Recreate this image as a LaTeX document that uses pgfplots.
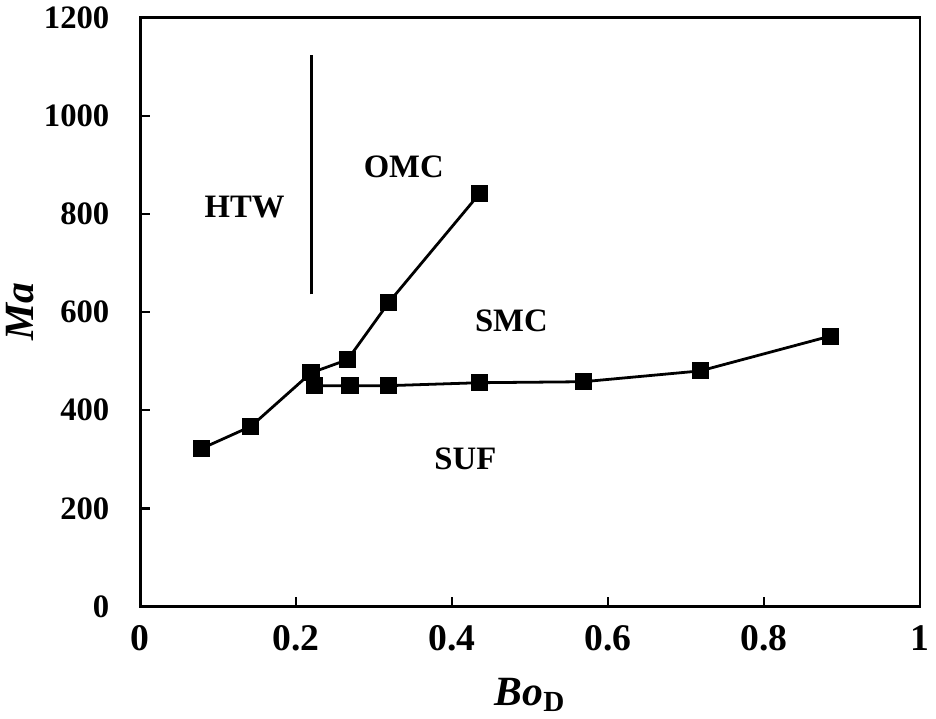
\documentclass[border=0pt]{standalone}
\usepackage{fontspec}
\setmainfont{Liberation Serif}
\usepackage{pgfplots}
\pgfplotsset{compat=1.18}

\begin{document}
\begin{tikzpicture}
\begin{axis}[
  scale only axis,
  width=392bp, height=296bp,
  xmin=0, xmax=1, ymin=0, ymax=1200,
  xtick={0,0.2,...,1}, ytick={0,200,...,1200},
  /pgf/number format/1000 sep={},
  xticklabel style={font=\fontsize{19}{20}\selectfont\bfseries, yshift=-6bp},
  yticklabel style={font=\fontsize{16.5}{18}\selectfont\bfseries, xshift=-12bp},
  /pgf/number format/assume math mode=true,
  tick align=inside,
  major tick length=5bp,
  xtick pos=bottom, ytick pos=left,
  axis line style={line width=1.4bp},
  tick style={line width=1.2bp, black},
  xlabel={\fontsize{21}{22}\selectfont\bfseries\itshape Bo\textsubscript{\upshape D}},
  ylabel={\fontsize{21}{22}\selectfont\bfseries\itshape Ma},
  xlabel style={yshift=-7bp},
  ylabel style={yshift=-2bp},
  every axis plot/.append style={black, line width=1.4bp},
]
% upper branch
\addplot[mark=square*, mark size=3.6bp] coordinates {
  (0.079,322) (0.142,367) (0.219,476) (0.266,503) (0.319,620) (0.435,841)};
% lower branch
\addplot[mark=square*, mark size=3.6bp] coordinates {
  (0.223,450) (0.269,450) (0.319,450) (0.435,456) (0.568,458) (0.718,480) (0.885,551)};
% boundary line
\addplot[no marks] coordinates {(0.22,636) (0.22,1123)};

\node[font=\fontsize{16.5}{18}\selectfont\bfseries] at (axis cs:0.134,815) {HTW};
\node[font=\fontsize{16.5}{18}\selectfont\bfseries] at (axis cs:0.338,896) {OMC};
\node[font=\fontsize{16.5}{18}\selectfont\bfseries] at (axis cs:0.476,582) {SMC};
\node[font=\fontsize{16.5}{18}\selectfont\bfseries] at (axis cs:0.417,300) {SUF};
\end{axis}
\end{tikzpicture}
\end{document}
